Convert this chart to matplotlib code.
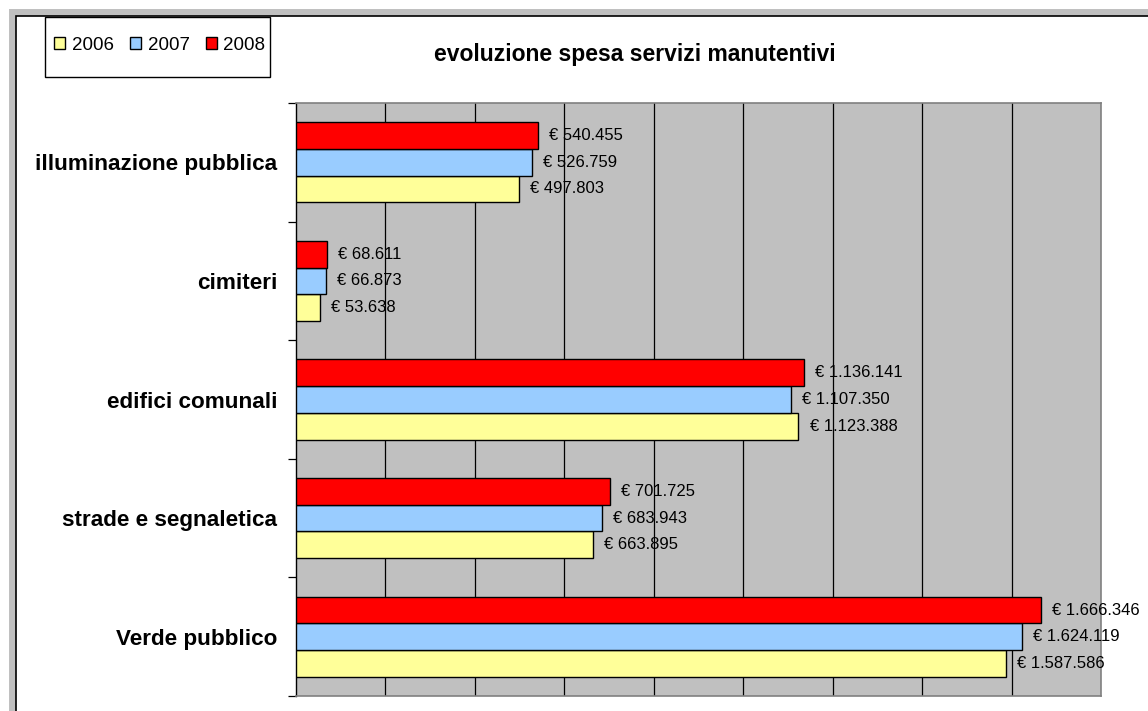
import matplotlib
matplotlib.use("Agg")
import matplotlib.pyplot as plt
from matplotlib.patches import Rectangle
import numpy as np

categories = ["Verde pubblico", "strade e segnaletica", "edifici comunali",
              "cimiteri", "illuminazione pubblica"]
years = ["2006", "2007", "2008"]
v2006 = [1587586, 663895, 1123388, 53638, 497803]
v2007 = [1624119, 683943, 1107350, 66873, 526759]
v2008 = [1666346, 701725, 1136141, 68611, 540455]
colors = ["#FFFF99", "#99CCFF", "#FF0000"]
title = "evoluzione spesa servizi manutentivi"

plt.rcParams['font.family'] = ['Liberation Sans', 'DejaVu Sans']

W, H = 1148, 711
fig = plt.figure(figsize=(W / 100, H / 100), dpi=100)
fig.patch.set_facecolor("white")

# outer frame (gray band + black inner line)
fig.add_artist(Rectangle((9 / W, -0.1), 2, (H - 9) / H + 0.1, transform=fig.transFigure,
                         facecolor="#C0C0C0", edgecolor="none", zorder=0))
fig.add_artist(Rectangle((15.5 / W, -0.1), 2, (H - 15.5) / H + 0.1, transform=fig.transFigure,
                         facecolor="white", edgecolor="black", lw=1.2, zorder=0))

x0, x1, ytop, ybot = 296, 1101, 103, 696
ax = fig.add_axes([x0 / W, (H - ybot) / H, (x1 - x0) / W, (ybot - ytop) / H])
ax.set_facecolor("#C0C0C0")

y = np.arange(len(categories))
h = 0.225
series = [v2006, v2007, v2008]
offsets = [-h, 0, h]
bars = []
for vals, col, off, yr in zip(series, colors, offsets, years):
    b = ax.barh(y + off, vals, height=h, color=col, edgecolor="black", linewidth=1.0,
                label=yr, zorder=3)
    bars.append(b)
    for rect, v in zip(b, vals):
        ax.annotate("€ " + f"{v:,}".replace(",", "."),
                    xy=(rect.get_width(), rect.get_y() + rect.get_height() / 2),
                    xytext=(8, 0), textcoords="offset points",
                    ha="left", va="center", fontsize=12, color="black", zorder=5)

ax.set_xlim(0, 1800000)
ax.set_ylim(-0.5, len(categories) - 0.5)
ax.set_xticks(np.arange(200000, 1800000, 200000))
ax.xaxis.grid(True, color="black", linewidth=0.9, zorder=1)
ax.set_axisbelow(True)
ax.tick_params(axis="x", length=0, labelbottom=False)

ax.set_yticks(y)
ax.set_yticklabels(categories, fontsize=16.2, fontweight="bold")
ax.tick_params(axis="y", which="major", length=0, pad=13.5)
ax.set_yticks(np.arange(-0.5, len(categories), 1), minor=True)
ax.tick_params(axis="y", which="minor", length=5.5, width=0.9, color="black", direction="out")

for s in ["top", "right", "bottom"]:
    ax.spines[s].set_color("#808080")
    ax.spines[s].set_linewidth(1.2)
ax.spines["left"].set_color("black")
ax.spines["left"].set_linewidth(1.0)

fig.text(635 / W, 1 - 55 / H, title, ha="center", va="center", fontsize=16.5,
         fontweight="bold")

# legend box
fig.add_artist(Rectangle((45 / W, 1 - 77 / H), (270 - 45) / W, 60 / H,
                         transform=fig.transFigure, facecolor="white",
                         edgecolor="black", lw=1.0, zorder=1))
leg = fig.legend(handles=bars, labels=years, loc="center left",
                 bbox_to_anchor=(54 / W, 1 - 45 / H), ncol=3, fontsize=13.5,
                 frameon=False, borderpad=0, handlelength=0.6, handleheight=0.6,
                 handletextpad=0.35, columnspacing=0.85, borderaxespad=0)
leg.set_zorder(2)

fig.savefig("out.png", dpi=100)
